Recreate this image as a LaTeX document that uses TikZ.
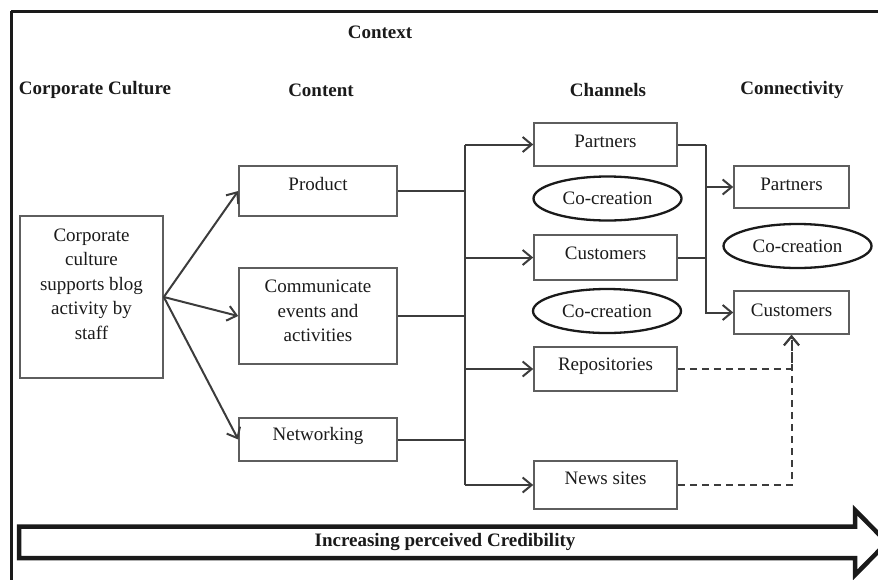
\documentclass[tikz,border=0pt]{standalone}
\usepackage{fontspec}
\setmainfont{Liberation Serif}
\usetikzlibrary{arrows.meta,shapes.geometric}
\definecolor{boxline}{HTML}{5E5E5E}
\definecolor{ink}{HTML}{1A1A1A}
\begin{document}
\begin{tikzpicture}[x=1pt,y=-1pt,
  txt/.style={font=\fontsize{19}{24.5}\selectfont,text=ink,inner sep=0pt,align=center},
  hdr/.style={txt,font=\fontsize{19}{24.5}\selectfont\bfseries},
  box/.style={draw=boxline,line width=1.6pt,inner sep=0pt,minimum width=#1},
  oval/.style={ellipse,draw=ink,line width=2.3pt,inner sep=0pt,minimum width=148pt,minimum height=44pt,text=ink,font=\fontsize{19}{24.5}\selectfont},
  link/.style={draw=ink!85,line width=2pt},
  arr/.style={link,-{Straight Barb[length=9pt,width=15pt,line width=2pt]}},
  darr/.style={arr,dashed,dash pattern=on 7pt off 5pt}]
\useasboundingbox (0,0) rectangle (878,579);
\clip (0,0) rectangle (878,579);

% outer frame
\draw[line width=3pt,ink] (11,11) -- (11,600);
\draw[line width=3pt,ink] (11,11) -- (900,11);

% headings
\node[hdr] (hctx) at (380,32) {Context};
\node[hdr] (hcc) at (95,90) {Corporate Culture};
\node[hdr] (hcont) at (321,90) {Content};
\node[hdr] (hchan) at (608,90) {Channels};
\node[hdr] (hconn) at (792,90) {Connectivity};

% corporate culture
\node[box=143pt,minimum height=162pt] (cc) at (91.5,297) {};
\node[txt] (cct) at (91.5,284) {Corporate\\culture\\supports blog\\activity by\\staff};

% content
\node[box=158pt,minimum height=50pt] (prod) at (318,191) {};
\node[txt] (prodt) at (318,184) {Product};
\node[box=158pt,minimum height=96pt] (comm) at (318,316) {};
\node[txt] (commt) at (318,311) {Communicate\\events and\\activities};
\node[box=158pt,minimum height=43pt] (netw) at (318,439.5) {};
\node[txt] (netwt) at (318,436) {Networking};

% channels
\node[box=143pt,minimum height=43pt] (chp) at (605.5,144.5) {};
\node[txt] (chpt) at (605.5,141) {Partners};
\node[oval] (co1) at (607.5,198.5) {Co-creation};
\node[box=143pt,minimum height=45pt] (chc) at (605.5,257.5) {};
\node[txt] (chct) at (605.5,253) {Customers};
\node[oval] (co2) at (607,311) {Co-creation};
\node[box=143pt,minimum height=44pt] (rep) at (605.5,369) {};
\node[txt] (rept) at (605.5,366) {Repositories};
\node[box=143pt,minimum height=48pt] (news) at (605.5,485) {};
\node[txt] (newst) at (605.5,478) {News sites};

% connectivity
\node[box=115pt,minimum height=42pt] (cnp) at (791.5,187) {};
\node[txt] (cnpt) at (791.5,184) {Partners};
\node[oval] (co3) at (797.5,246) {Co-creation};
\node[box=115pt,minimum height=43pt] (cnc) at (791.5,312.5) {};
\node[txt] (cnct) at (791.5,310) {Customers};

% culture to content
\draw[arr] (cc.east) -- (prod.west);
\draw[arr] (cc.east) -- (comm.west);
\draw[arr] (cc.east) -- (netw.west);

% content to channels
\coordinate (ta) at (465,144.5);
\coordinate (tb) at (465,485);
\draw[link] (ta) -- (tb);
\draw[link] (prod.east) -- (prod.east -| ta);
\draw[link] (comm.east) -- (comm.east -| ta);
\draw[link] (netw.east) -- (netw.east -| ta);
\draw[arr] (ta) -- (chp.west);
\draw[arr] (chc.west -| ta) -- (chc.west);
\draw[arr] (rep.west -| ta) -- (rep.west);
\draw[arr] (tb) -- (news.west);

% channels to connectivity
\coordinate (ra) at (706,144.5);
\draw[link] (chp.east) -- (ra);
\draw[link] (chc.east) -- (chc.east -| ra);
\draw[arr] (ra) |- (cnc.west);
\draw[arr] (cnp.west -| ra) -- (cnp.west);

% dashed links into customers
\draw[darr] (rep.east) -| (cnc.south);
\draw[darr] (news.east) -| (cnc.south);

% credibility arrow
\draw[line width=4.5pt,ink,fill=white,line join=miter]
  (19,526.5) -- (855,526.5) -- (855,510) -- (887,542.5) -- (855,575)
  -- (855,558) -- (19,558) -- cycle;
\node[hdr] (cred) at (445,542) {Increasing perceived Credibility};
\end{tikzpicture}
\end{document}
